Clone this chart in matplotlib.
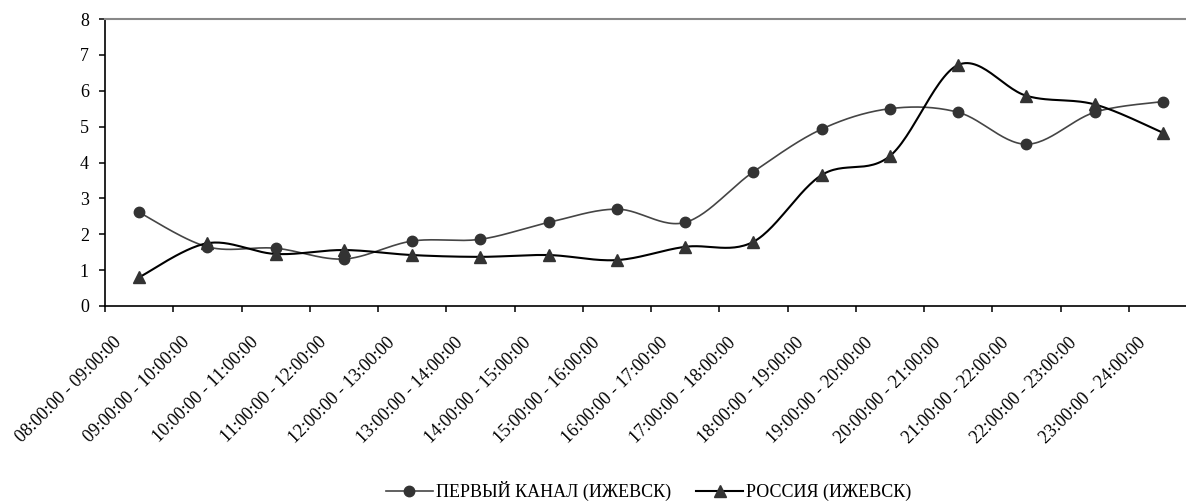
import numpy as np
import matplotlib
matplotlib.use('Agg')
import matplotlib.pyplot as plt
import matplotlib.transforms as mtransforms
from matplotlib.lines import Line2D

plt.rcParams['font.family'] = ['Liberation Serif', 'DejaVu Serif']
plt.rcParams['font.size'] = 13

labels = ['08:00:00 - 09:00:00', '09:00:00 - 10:00:00', '10:00:00 - 11:00:00',
          '11:00:00 - 12:00:00', '12:00:00 - 13:00:00', '13:00:00 - 14:00:00',
          '14:00:00 - 15:00:00', '15:00:00 - 16:00:00', '16:00:00 - 17:00:00',
          '17:00:00 - 18:00:00', '18:00:00 - 19:00:00', '19:00:00 - 20:00:00',
          '20:00:00 - 21:00:00', '21:00:00 - 22:00:00', '22:00:00 - 23:00:00',
          '23:00:00 - 24:00:00']
perviy = [2.61, 1.65, 1.61, 1.31, 1.81, 1.86, 2.33, 2.70,
          2.33, 3.74, 4.93, 5.50, 5.40, 4.51, 5.40, 5.70]
rossiya = [0.80, 1.75, 1.45, 1.56, 1.42, 1.37, 1.42, 1.28,
           1.65, 1.79, 3.65, 4.18, 6.72, 5.86, 5.62, 4.83]
names = ['ПЕРВЫЙ КАНАЛ (ИЖЕВСК)', 'РОССИЯ (ИЖЕВСК)']


def smooth(x, y, n=30):
    # catmull-rom style bezier, like excel smoothed lines
    x = np.asarray(x, float)
    y = np.asarray(y, float)
    px = np.concatenate([[x[0]], x, [x[-1]]])
    py = np.concatenate([[y[0]], y, [y[-1]]])
    t = np.linspace(0, 1, n)[:, None]
    xs, ys = [], []
    for i in range(1, len(px) - 2):
        p0 = np.array([px[i], py[i]])
        p3 = np.array([px[i + 1], py[i + 1]])
        c1 = p0 + (np.array([px[i + 1], py[i + 1]]) - np.array([px[i - 1], py[i - 1]])) / 6
        c2 = p3 - (np.array([px[i + 2], py[i + 2]]) - np.array([px[i], py[i]])) / 6
        b = ((1 - t) ** 3 * p0 + 3 * (1 - t) ** 2 * t * c1
             + 3 * (1 - t) * t ** 2 * c2 + t ** 3 * p3)
        xs.append(b[:, 0])
        ys.append(b[:, 1])
    return np.concatenate(xs), np.concatenate(ys)


x = np.arange(len(labels))

fig = plt.figure(figsize=(11.86, 5.01), dpi=100)
ax = fig.add_axes([105 / 1186, 1 - 306 / 501, 1092 / 1186, 287 / 501])

sx, sy = smooth(x, perviy)
ax.plot(sx, sy, color='#454545', lw=1.2)
ax.plot(x, perviy, 'o', color='#333333', ms=7.5)

sx, sy = smooth(x, rossiya)
ax.plot(sx, sy, color='black', lw=1.5)
ax.plot(x, rossiya, '^', color='#333333', ms=8.5)

ax.set_xlim(-0.5, len(labels) - 0.5)
ax.set_ylim(0, 8)
ax.set_yticks(range(9))

ax.set_xticks(np.arange(len(labels) + 1) - 0.5)
ax.set_xticklabels([])
ax.set_xticks(x, minor=True)
ax.set_xticklabels(labels, minor=True, rotation=45, rotation_mode='anchor',
                   ha='right', va='top')
ax.tick_params(axis='x', which='minor', length=0, pad=0)
ax.tick_params(axis='x', which='major', length=4.5, width=1.1, direction='out')
ax.tick_params(axis='y', length=4.5, width=1.1, direction='out', pad=7)

off = mtransforms.ScaledTranslation(-26 / 100, -28 / 100, fig.dpi_scale_trans)
for lb in ax.get_xticklabels(minor=True):
    lb.set_transform(lb.get_transform() + off)

for s in ['left', 'bottom']:
    ax.spines[s].set_linewidth(1.2)
ax.spines['top'].set_color('#888888')
ax.spines['top'].set_linewidth(1.5)
ax.spines['right'].set_visible(False)

h1 = Line2D([], [], color='#454545', lw=1.2, marker='o', mfc='#333333',
            mec='#333333', ms=7.5)
h2 = Line2D([], [], color='black', lw=1.5, marker='^', mfc='#333333',
            mec='#333333', ms=8.5)
fig.legend([h1, h2], names, loc='center', bbox_to_anchor=(0.547, 0.02),
           ncol=2, frameon=False, handlelength=2.6, handletextpad=0.17,
           columnspacing=1.4, numpoints=1)

fig.savefig('out.png', dpi=100)
